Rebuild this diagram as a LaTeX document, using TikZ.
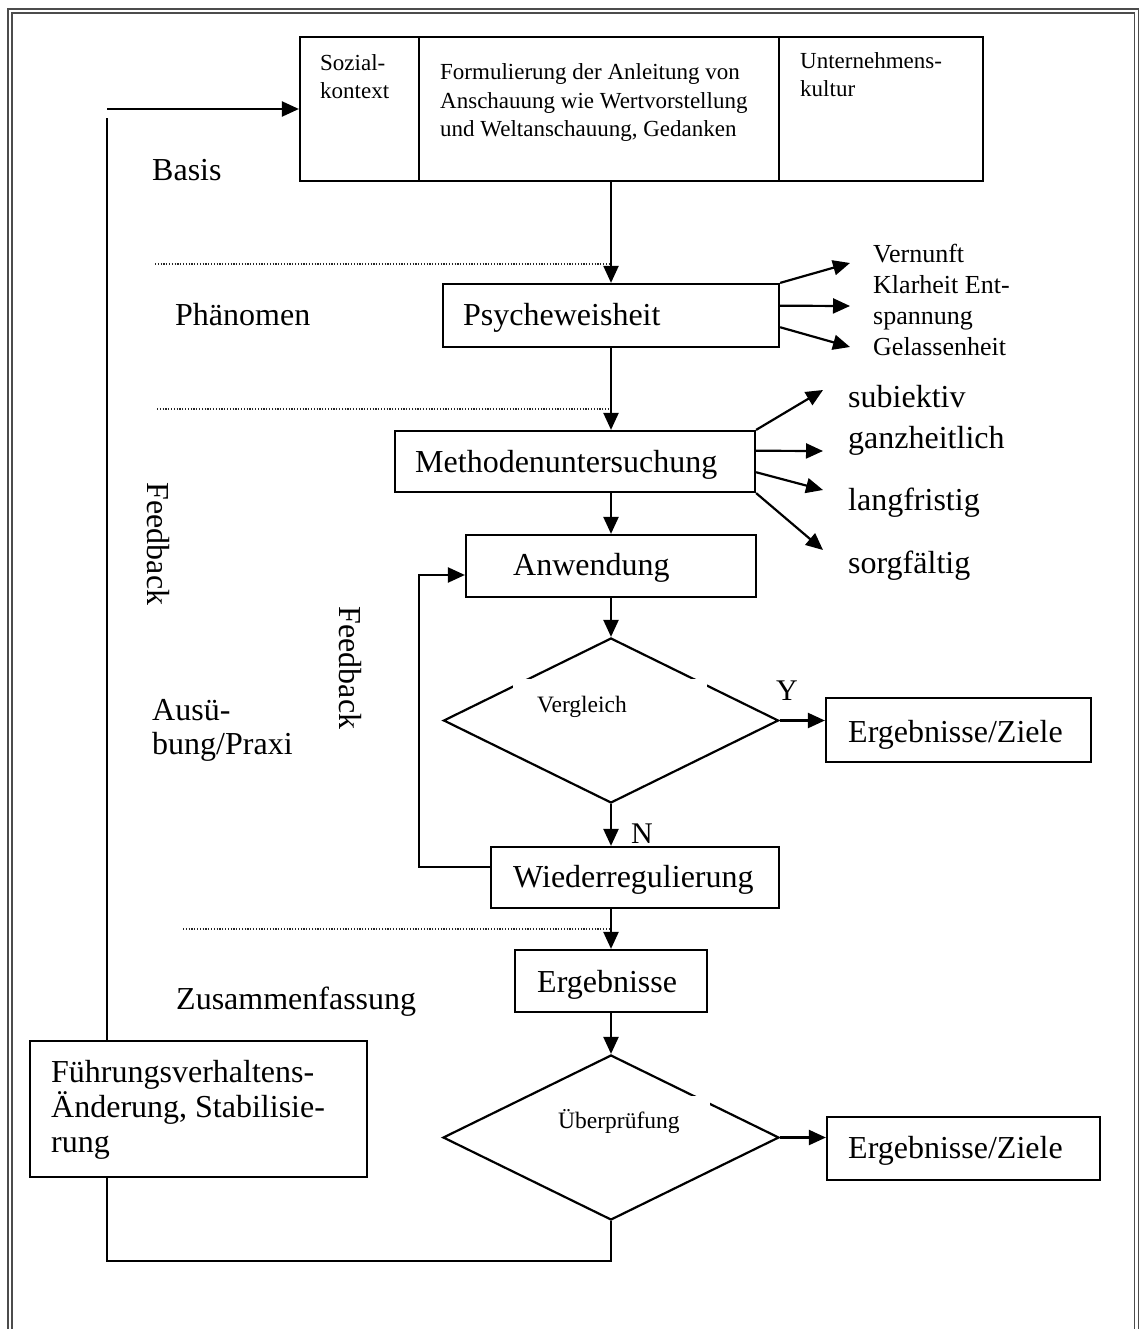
\documentclass[tikz,border=0pt]{standalone}
\usepackage{fontspec}
\setmainfont{Liberation Serif}
\usetikzlibrary{arrows.meta,shapes.geometric,calc}
\newcommand{\pxfont}[1]{\fontsize{#1}{#1}\selectfont}
\begin{document}
\begin{tikzpicture}[x=1pt,y=-1pt,
  txt/.style={inner sep=0pt, anchor=base west},
  big/.style={txt, font=\pxfont{32}},
  mid/.style={txt, font=\pxfont{26}},
  small/.style={txt, font=\pxfont{23}},
  tiny/.style={txt, font=\pxfont{23.5}},
  yn/.style={txt, font=\pxfont{30}},
  box/.style={draw, line width=2.2pt, inner sep=0pt},
  decision/.style={diamond, draw, line width=2.2pt, inner sep=0pt},
  gap/.style={fill=white, inner sep=0pt},
  conn/.style={line width=2.2pt},
  arr/.style={line width=2.2pt, -{Triangle[length=17pt,width=15pt]}},
  dotline/.style={line width=1.3pt, black!85, dash pattern=on 1.2pt off 1.6pt},
  frame/.style={line width=1.4pt, black!70}]

\useasboundingbox (0,0) rectangle (1140,1329);

% page frame (double rule, open at the bottom)
\draw[frame] (8,1329) -- (8,9) -- (1138.5,9) -- (1138.5,1329);
\draw[frame] (12,1329) -- (12,13) -- (1134.5,13) -- (1134.5,1329);

% top: basis block with three cells
\node[box, minimum width=119pt, minimum height=144pt] (soz) at (359.5,109) {};
\node[box, minimum width=360pt, minimum height=144pt] (form) at (599,109) {};
\node[box, minimum width=204pt, minimum height=144pt] (unt) at (881,109) {};
\node[small] (soz1) at (320,71) {Sozial-};
\node[small] (soz2) at (320,99) {kontext};
\node[small] (form1) at (440,80) {Formulierung der Anleitung von};
\node[small] (form2) at (440,109) {Anschauung wie Wertvorstellung};
\node[small] (form3) at (440,137) {und Weltanschauung, Gedanken};
\node[small] (unt1) at (800,69) {Unternehmens-};
\node[small] (unt2) at (800,97) {kultur};

% main process boxes
\node[box, minimum width=336pt, minimum height=63pt] (psy) at (611,315.5) {};
\node[big] (psyt) at (463,325) {Psycheweisheit};
\node[box, minimum width=360pt, minimum height=61pt] (meth) at (575,461.5) {};
\node[big] (metht) at (415,472) {Methodenuntersuchung};
\node[box, minimum width=290pt, minimum height=62pt] (anw) at (611,566) {};
\node[big] (anwt) at (513,575) {Anwendung};
\node[box, minimum width=288pt, minimum height=61pt] (wied) at (635,877.5) {};
\node[big] (wiedt) at (513,887) {Wiederregulierung};
\node[box, minimum width=192pt, minimum height=62pt] (erg) at (611,981) {};
\node[big] (ergt) at (537,992) {Ergebnisse};
\node[box, minimum width=265pt, minimum height=64pt] (ez1) at (958.5,730) {};
\node[big] (ez1t) at (848,742) {Ergebnisse/Ziele};
\node[box, minimum width=273pt, minimum height=63pt] (ez2) at (963.5,1148.5) {};
\node[big] (ez2t) at (848,1158) {Ergebnisse/Ziele};
\node[box, minimum width=337pt, minimum height=136pt] (fuhr) at (198.5,1109) {};
\node[big] (fuhr1) at (51,1082) {Führungsverhaltens-};
\node[big] (fuhr2) at (51,1117) {Änderung, Stabilisie-};
\node[big] (fuhr3) at (51,1152) {rung};

% decisions
\node[decision, minimum width=335pt, minimum height=165pt] (vgl) at (611,720.5) {};
\node[gap, minimum width=194pt, minimum height=66pt] (vglgap) at (610,712) {};
\node[tiny] (vglt) at (537,712) {Vergleich};
\node[decision, minimum width=336pt, minimum height=165pt] (ueb) at (611,1137.5) {};
\node[gap, minimum width=170pt, minimum height=64pt] (uebgap) at (625,1128) {};
\node[tiny] (uebt) at (558,1128) {Überprüfung};
\node[yn] (yes) at (776,700) {Y};
\node[yn] (no) at (631,843) {N};

% level labels on the left
\node[big] (basis) at (152,181) {Basis};
\node[big] (phaen) at (175,325) {Phänomen};
\node[big] (aus1) at (152,720) {Ausü-};
\node[big] (aus2) at (152,754) {bung/Praxi};
\node[big] (zus) at (176,1009) {Zusammenfassung};
\node[inner sep=0pt, font=\pxfont{32}, rotate=-90] (fb1) at (158,544) {Feedback};
\node[inner sep=0pt, font=\pxfont{32}, rotate=-90] (fb2) at (350,668) {Feedback};

% attributes on the right
\node[mid] (a1) at (873,263) {Vernunft};
\node[mid] (a2) at (873,294) {Klarheit Ent-};
\node[mid] (a3) at (873,324) {spannung};
\node[mid] (a4) at (873,355) {Gelassenheit};
\node[big] (m1) at (848,407) {subiektiv};
\node[big] (m2) at (848,448) {ganzheitlich};
\node[big] (m3) at (848,510) {langfristig};
\node[big] (m4) at (848,573) {sorgfältig};

% level separators
\coordinate (d1) at (155,264);
\coordinate (d2) at (157,409);
\coordinate (d3) at (183,929);
\draw[dotline] (d1) -- (d1 -| psy.north);
\draw[dotline] (d2) -- (d2 -| psy.north);
\draw[dotline] (d3) -- (d3 -| erg.north);

% main flow
\draw[arr] (psy.north |- form.south) -- (psy.north);
\draw[arr] (psy.south) -- (psy.south |- meth.north);
\draw[arr] (meth.south -| anw.north) -- (anw.north);
\draw[arr] (anw.south) -- (vgl.north);
\draw[arr] (vgl.east) -- (vgl.east -| ez1.west);
\draw[arr] (vgl.south) -- (vgl.south |- wied.north);
\draw[arr] (wied.south -| erg.north) -- (erg.north);
\draw[arr] (erg.south) -- (ueb.north);
\draw[arr] (ueb.east) -- (ueb.east -| ez2.west);

% attribute arrows
\coordinate (pe1) at (850,263);
\coordinate (pe2) at (850,306);
\coordinate (pe3) at (850,347);
\draw[arr] (psy.north east) -- (pe1);
\draw[arr] ($(psy.north east)!0.35!(psy.south east)$) -- (pe2);
\draw[arr] ($(psy.north east)!0.68!(psy.south east)$) -- (pe3);
\coordinate (me1) at (823,390);
\coordinate (me2) at (823,451);
\coordinate (me3) at (823,490);
\coordinate (me4) at (823,550);
\draw[arr] (meth.north east) -- (me1);
\draw[arr] ($(meth.north east)!0.33!(meth.south east)$) -- (me2);
\draw[arr] ($(meth.north east)!0.67!(meth.south east)$) -- (me3);
\draw[arr] (meth.south east) -- (me4);

% inner feedback loop
\coordinate (fa) at (419,575);
\coordinate (fb) at (419,867);
\draw[arr] (wied.west |- fb) -- (fb) -- (fa) -- (anw.west |- fa);

% outer feedback loop
\coordinate (lt) at (107,118);
\coordinate (ls) at (107,109);
\coordinate (lb) at (107,1261);
\draw[conn] (ueb.south) -- (ueb.south |- lb) -- (lb) -- (lb |- fuhr.south);
\draw[conn] (fuhr.north -| lt) -- (lt);
\draw[arr] (ls) -- (soz.west);
\end{tikzpicture}
\end{document}
